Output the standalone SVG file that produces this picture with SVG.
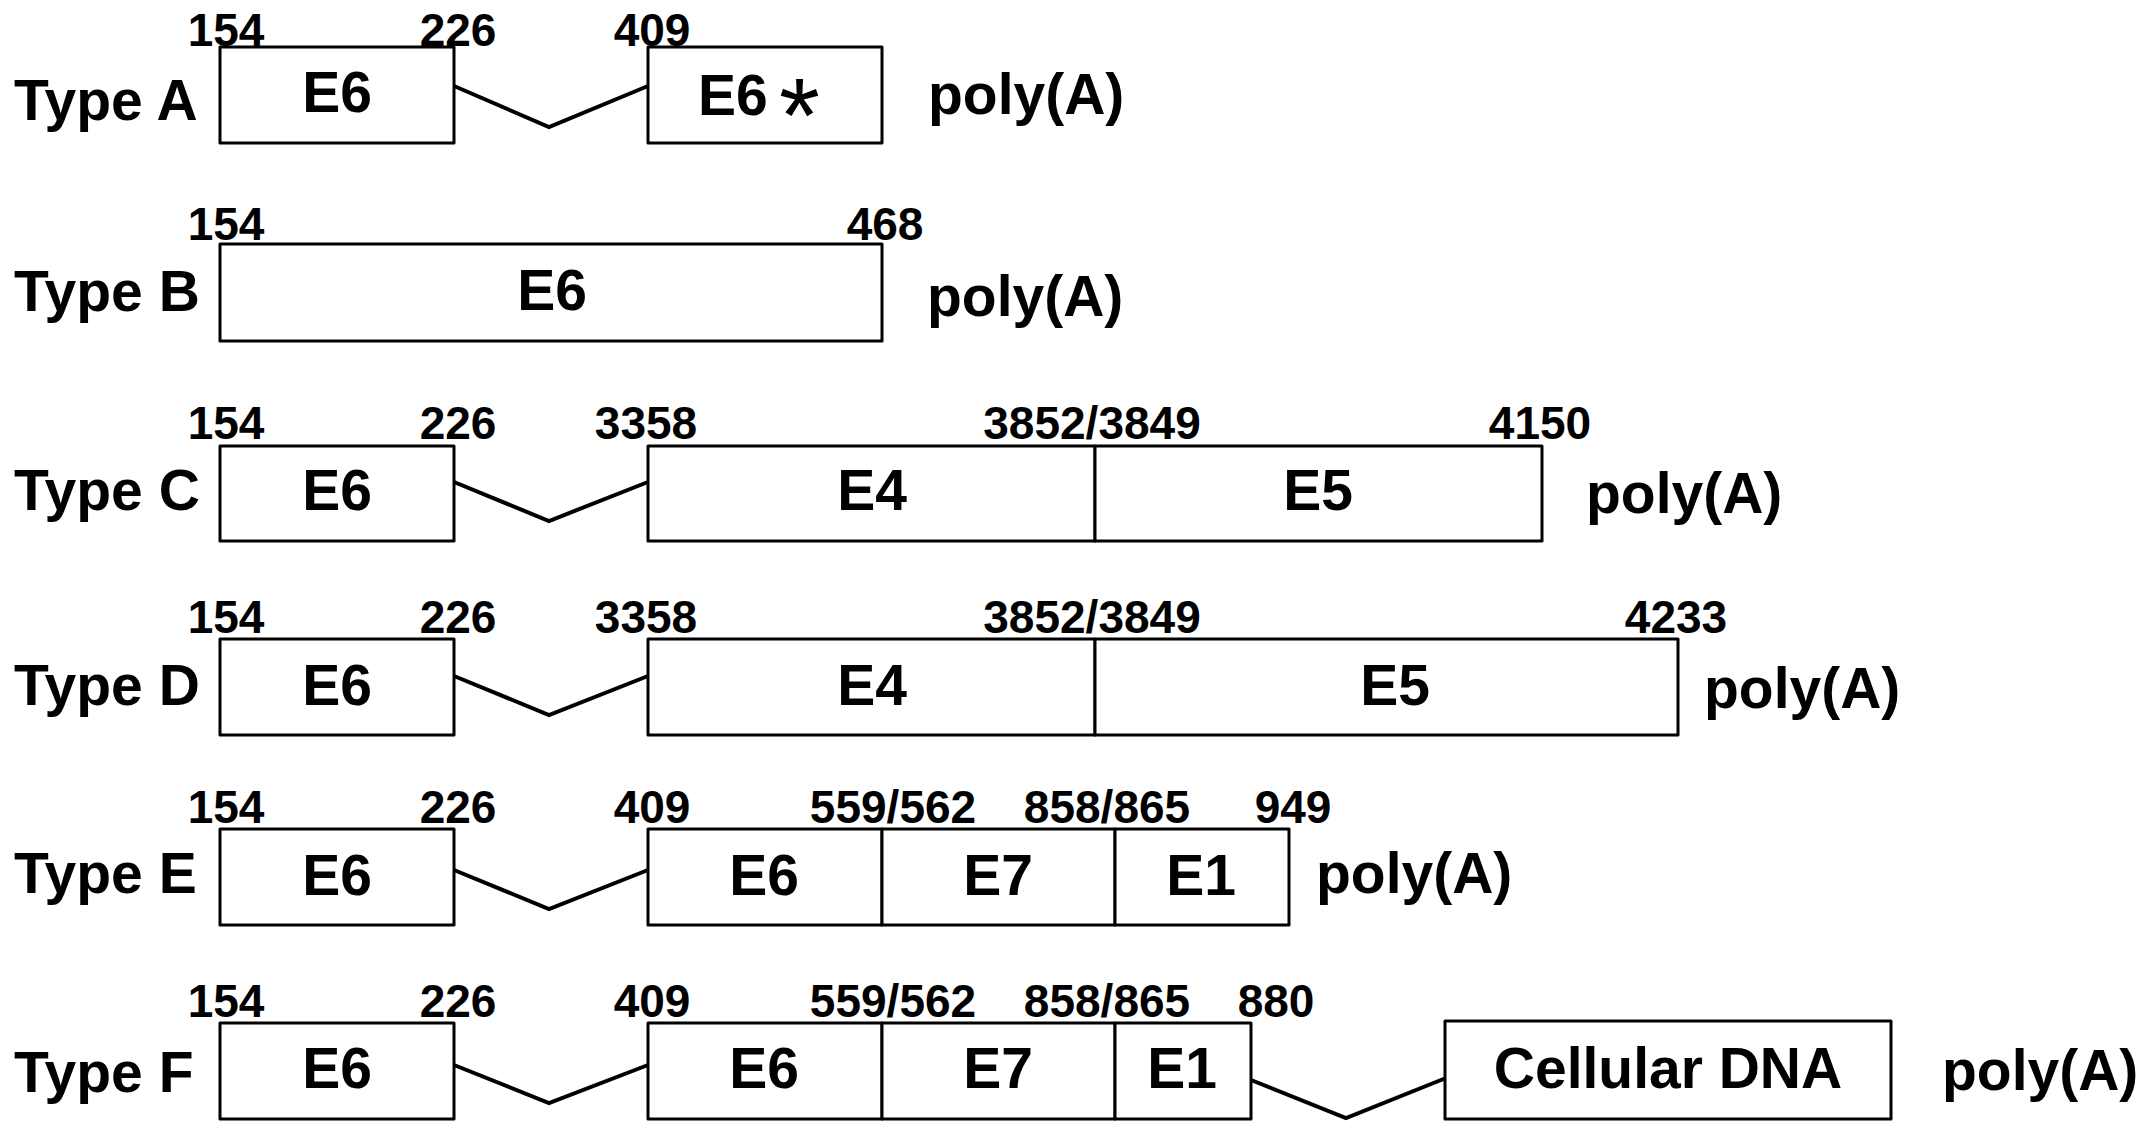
<svg xmlns="http://www.w3.org/2000/svg" width="2150" height="1135" viewBox="0 0 2150 1135">
<style>
  .bg{fill:#fff}
  .box{fill:#fff;stroke:#000;stroke-width:3;stroke-linejoin:round}
  .lbl{font-family:"Liberation Sans",Arial,sans-serif;font-weight:bold;font-size:57px;fill:#000}
  .c{text-anchor:middle}
  .num{font-family:"Liberation Sans",Arial,sans-serif;font-weight:bold;font-size:46px;fill:#000;text-anchor:middle}
  .ast{font-weight:normal;font-size:105px}
  .conn{fill:none;stroke:#000;stroke-width:4;stroke-linejoin:miter}
</style>
<rect class="bg" x="0" y="0" width="2150" height="1135"/>

<g id="connectors">
  <polyline class="conn" points="454,86 549,127 648,86"/>
  <polyline class="conn" points="454,482 549,521 648,482"/>
  <polyline class="conn" points="454,676 549,715 648,676"/>
  <polyline class="conn" points="454,870 549,909 648,870"/>
  <polyline class="conn" points="454,1065 549,1103 648,1065"/>
  <polyline class="conn" points="1251,1080 1346,1118 1446,1078"/>
</g>

<!-- Type A -->
<g id="rowA">
  <text class="lbl" x="14" y="120">Type A</text>
  <text class="num" x="226" y="46">154</text>
  <text class="num" x="458" y="46">226</text>
  <text class="num" x="652" y="46">409</text>
  <text class="lbl" x="928" y="114">poly(A)</text>
</g>
<g id="A_E6"><rect class="box" x="220" y="47" width="234" height="96"/><text class="lbl c" x="337" y="112">E6</text></g>
<g id="A_E6star"><rect class="box" x="648" y="47" width="234" height="96"/><text class="lbl" x="698" y="115">E6<tspan class="ast" x="779" y="152">*</tspan></text></g>

<!-- Type B -->
<g id="rowB">
  <text class="lbl" x="14" y="311">Type B</text>
  <text class="num" x="226" y="240">154</text>
  <text class="num" x="885" y="240">468</text>
  <text class="lbl" x="927" y="316">poly(A)</text>
</g>
<g id="B_E6"><rect class="box" x="220" y="244" width="662" height="97"/><text class="lbl c" x="552" y="310">E6</text></g>

<!-- Type C -->
<g id="rowC">
  <text class="lbl" x="14" y="510">Type C</text>
  <text class="num" x="226" y="439">154</text>
  <text class="num" x="458" y="439">226</text>
  <text class="num" x="646" y="439">3358</text>
  <text class="num" x="1092" y="439">3852/3849</text>
  <text class="num" x="1540" y="439">4150</text>
  <text class="lbl" x="1586" y="513">poly(A)</text>
</g>
<g id="C_E6"><rect class="box" x="220" y="446" width="234" height="95"/><text class="lbl c" x="337" y="510">E6</text></g>
<g id="C_E4"><rect class="box" x="648" y="446" width="447" height="95"/><text class="lbl c" x="872" y="510">E4</text></g>
<g id="C_E5"><rect class="box" x="1095" y="446" width="447" height="95"/><text class="lbl c" x="1318" y="510">E5</text></g>

<!-- Type D -->
<g id="rowD">
  <text class="lbl" x="14" y="705">Type D</text>
  <text class="num" x="226" y="633">154</text>
  <text class="num" x="458" y="633">226</text>
  <text class="num" x="646" y="633">3358</text>
  <text class="num" x="1092" y="633">3852/3849</text>
  <text class="num" x="1676" y="633">4233</text>
  <text class="lbl" x="1704" y="708">poly(A)</text>
</g>
<g id="D_E6"><rect class="box" x="220" y="639" width="234" height="96"/><text class="lbl c" x="337" y="705">E6</text></g>
<g id="D_E4"><rect class="box" x="648" y="639" width="447" height="96"/><text class="lbl c" x="872" y="705">E4</text></g>
<g id="D_E5"><rect class="box" x="1095" y="639" width="583" height="96"/><text class="lbl c" x="1395" y="705">E5</text></g>

<!-- Type E -->
<g id="rowE">
  <text class="lbl" x="14" y="893">Type E</text>
  <text class="num" x="226" y="823">154</text>
  <text class="num" x="458" y="823">226</text>
  <text class="num" x="652" y="823">409</text>
  <text class="num" x="893" y="823">559/562</text>
  <text class="num" x="1107" y="823">858/865</text>
  <text class="num" x="1293" y="823">949</text>
  <text class="lbl" x="1316" y="893">poly(A)</text>
</g>
<g id="E_E6a"><rect class="box" x="220" y="829" width="234" height="96"/><text class="lbl c" x="337" y="895">E6</text></g>
<g id="E_E6b"><rect class="box" x="648" y="829" width="234" height="96"/><text class="lbl c" x="764" y="895">E6</text></g>
<g id="E_E7"><rect class="box" x="882" y="829" width="233" height="96"/><text class="lbl c" x="998" y="895">E7</text></g>
<g id="E_E1"><rect class="box" x="1115" y="829" width="174" height="96"/><text class="lbl c" x="1201" y="895">E1</text></g>

<!-- Type F -->
<g id="rowF">
  <text class="lbl" x="14" y="1092">Type F</text>
  <text class="num" x="226" y="1017">154</text>
  <text class="num" x="458" y="1017">226</text>
  <text class="num" x="652" y="1017">409</text>
  <text class="num" x="893" y="1017">559/562</text>
  <text class="num" x="1107" y="1017">858/865</text>
  <text class="num" x="1276" y="1017">880</text>
  <text class="lbl" x="1942" y="1090">poly(A)</text>
</g>
<g id="F_E6a"><rect class="box" x="220" y="1023" width="234" height="96"/><text class="lbl c" x="337" y="1088">E6</text></g>
<g id="F_E6b"><rect class="box" x="648" y="1023" width="234" height="96"/><text class="lbl c" x="764" y="1088">E6</text></g>
<g id="F_E7"><rect class="box" x="882" y="1023" width="233" height="96"/><text class="lbl c" x="998" y="1088">E7</text></g>
<g id="F_E1"><rect class="box" x="1115" y="1023" width="136" height="96"/><text class="lbl c" x="1182" y="1088">E1</text></g>
<g id="F_cellular"><rect class="box" x="1445" y="1021" width="446" height="98"/><text class="lbl c" x="1668" y="1088">Cellular DNA</text></g>
</svg>
